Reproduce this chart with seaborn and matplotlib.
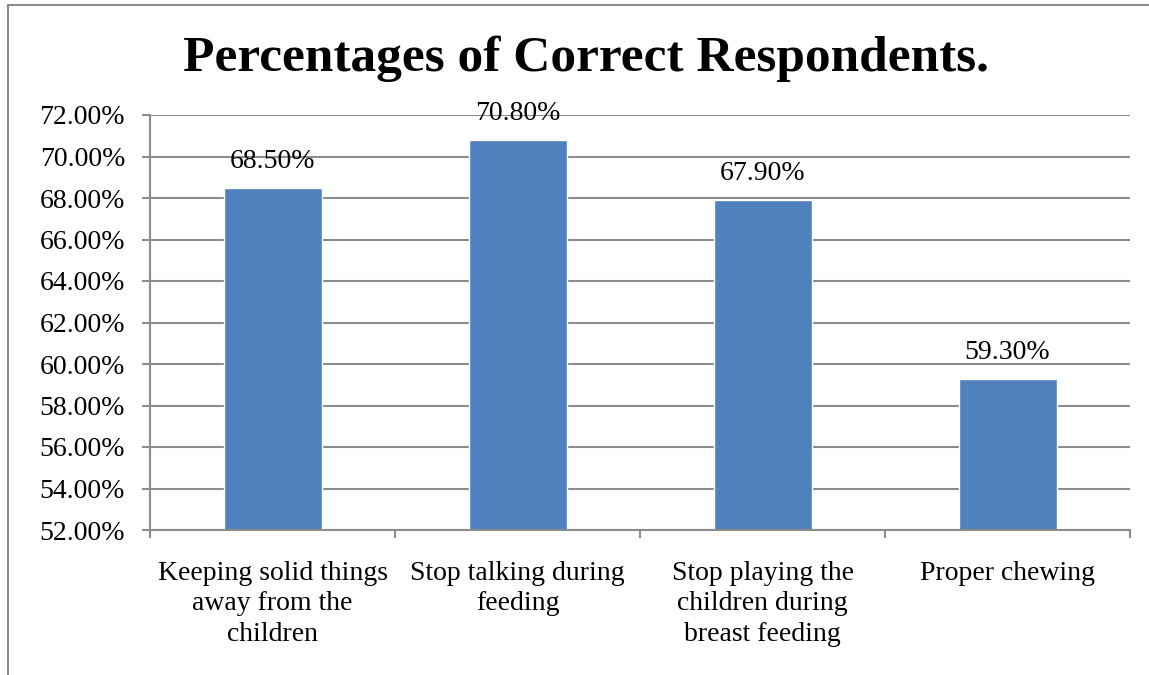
import numpy as np
import pandas as pd
import seaborn as sns
import matplotlib.pyplot as plt
from matplotlib.lines import Line2D
from matplotlib.ticker import FuncFormatter, FixedLocator

categories = ["Keeping solid things\naway from the\nchildren",
              "Stop talking during\nfeeding",
              "Stop playing the\nchildren during\nbreast feeding",
              "Proper chewing"]
percent_correct = [68.5, 70.8, 67.9, 59.3]
y_ticks = [52, 54, 56, 58, 60, 62, 64, 66, 68, 70, 72]

sns.set_theme(style="white")
plt.rcParams['font.family'] = ['Liberation Serif', 'DejaVu Serif']
plt.rcParams['text.color'] = 'black'

df = pd.DataFrame({'item': categories, 'pct': percent_correct})

fig = plt.figure(figsize=(11.49, 6.75), dpi=100)
ax = fig.add_axes([150/1149, 1-530/675, 980/1149, 415/675])

sns.barplot(data=df, x='item', y='pct', color='#4F81BD', saturation=1,
            width=0.4, ax=ax)

ax.set_ylim(52, 72)
ax.set_xlim(-0.5, 3.5)
ax.set_yticks(y_ticks)
ax.yaxis.set_major_formatter(FuncFormatter(lambda v, p: "%.2f%%" % v))
ax.yaxis.grid(True, color='#8c8c8c', linewidth=1.5)
ax.set_axisbelow(True)

for s in ['top', 'right']:
    ax.spines[s].set_visible(False)
for s in ['left', 'bottom']:
    ax.spines[s].set_color('#8c8c8c')
    ax.spines[s].set_linewidth(1.5)

ax.tick_params(axis='y', left=True, length=6, width=1.5, color='#8c8c8c',
               pad=12, labelsize=20, labelcolor='black')
ax.tick_params(axis='x', which='major', length=0, pad=22, labelsize=20,
               labelcolor='black')
ax.xaxis.set_minor_locator(FixedLocator([-0.5, 0.5, 1.5, 2.5, 3.5]))
ax.tick_params(axis='x', which='minor', bottom=True, length=6, width=1.5,
               color='#8c8c8c')
for lab in ax.get_xticklabels():
    lab.set_linespacing(1.3)

ax.set_xlabel('')
ax.set_ylabel('')

ax.bar_label(ax.containers[0], labels=["%.2f%%" % v for v in percent_correct],
             padding=10, fontsize=20, color='black')

fig.text(0.51, 1-59/675, "Percentages of Correct Respondents.",
         ha='center', va='center', fontsize=37, fontweight='bold', color='black')

# outer chart frame (cut off at right and bottom)
fig.add_artist(Line2D([8/1149, 8/1149], [0, 1-5/675], transform=fig.transFigure,
                      color='#8c8c8c', linewidth=1.5))
fig.add_artist(Line2D([8/1149, 1], [1-5/675, 1-5/675], transform=fig.transFigure,
                      color='#8c8c8c', linewidth=1.5))

fig.savefig('out.png', dpi=100)
